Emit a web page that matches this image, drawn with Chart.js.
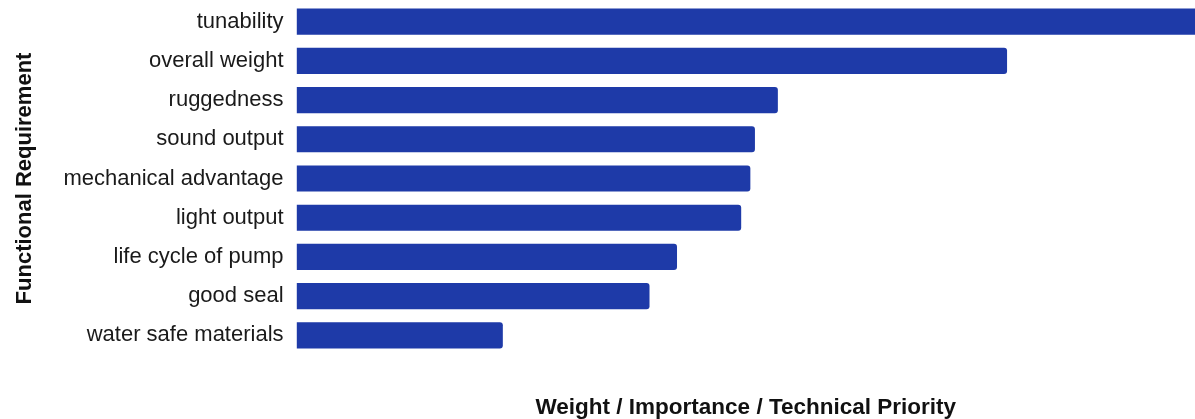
<!DOCTYPE html>
<html>
<head>
<meta charset="utf-8">
<script src="https://cdn.jsdelivr.net/npm/chart.js@4/dist/chart.umd.min.js"></script>
<style>
  html, body { margin: 0; padding: 0; background: #ffffff; }
  #wrap { width: 1195px; height: 419px; }
</style>
</head>
<body>
<div id="wrap"><canvas id="c" width="1195" height="419"></canvas></div>
<script>
// Functional requirements ranked by weight
const requirements = [
  'tunability',
  'overall weight',
  'ruggedness',
  'sound output',
  'mechanical advantage',
  'light output',
  'life cycle of pump',
  'good seal',
  'water safe materials'
];
const weights = [20.0, 15.5, 10.5, 10.0, 9.9, 9.7, 8.3, 7.7, 4.5];
const axisMax = 19.6;

const xTitle = 'Weight / Importance / Technical Priority';
const yTitle = 'Functional Requirement';

const FONT = 'Liberation Sans, Arial, sans-serif';

new Chart(document.getElementById('c'), {
  type: 'bar',
  data: {
    labels: requirements,
    datasets: [{
      data: weights,
      backgroundColor: '#1e3aa8',
      borderWidth: 0,
      borderRadius: 3,
      borderSkipped: 'start',
      barPercentage: 0.667,
      categoryPercentage: 1.0
    }]
  },
  options: {
    indexAxis: 'y',
    responsive: false,
    animation: false,
    devicePixelRatio: 1,
    layout: { padding: { top: 2, right: 0, left: 12, bottom: -2 } },
    plugins: {
      legend: { display: false },
      tooltip: { enabled: false }
    },
    scales: {
      x: {
        min: 0,
        max: axisMax,
        ticks: { display: false },
        grid: { display: false },
        border: { display: false },
        title: {
          display: true,
          text: xTitle,
          color: '#111111',
          font: { family: FONT, size: 22.5, weight: 'bold' },
          padding: { top: 31, bottom: 0 }
        }
      },
      y: {
        grid: { display: false },
        border: { display: false },
        afterFit: (scale) => { scale.paddingTop = 0; scale.paddingBottom = 0; },
        ticks: {
          color: '#1a1a1a',
          padding: 5,
          font: { family: FONT, size: 22 }
        },
        title: {
          display: true,
          text: yTitle,
          color: '#111111',
          font: { family: FONT, size: 22, weight: 'bold' },
          padding: { top: 0, bottom: 20 }
        }
      }
    }
  }
});
</script>
</body>
</html>
